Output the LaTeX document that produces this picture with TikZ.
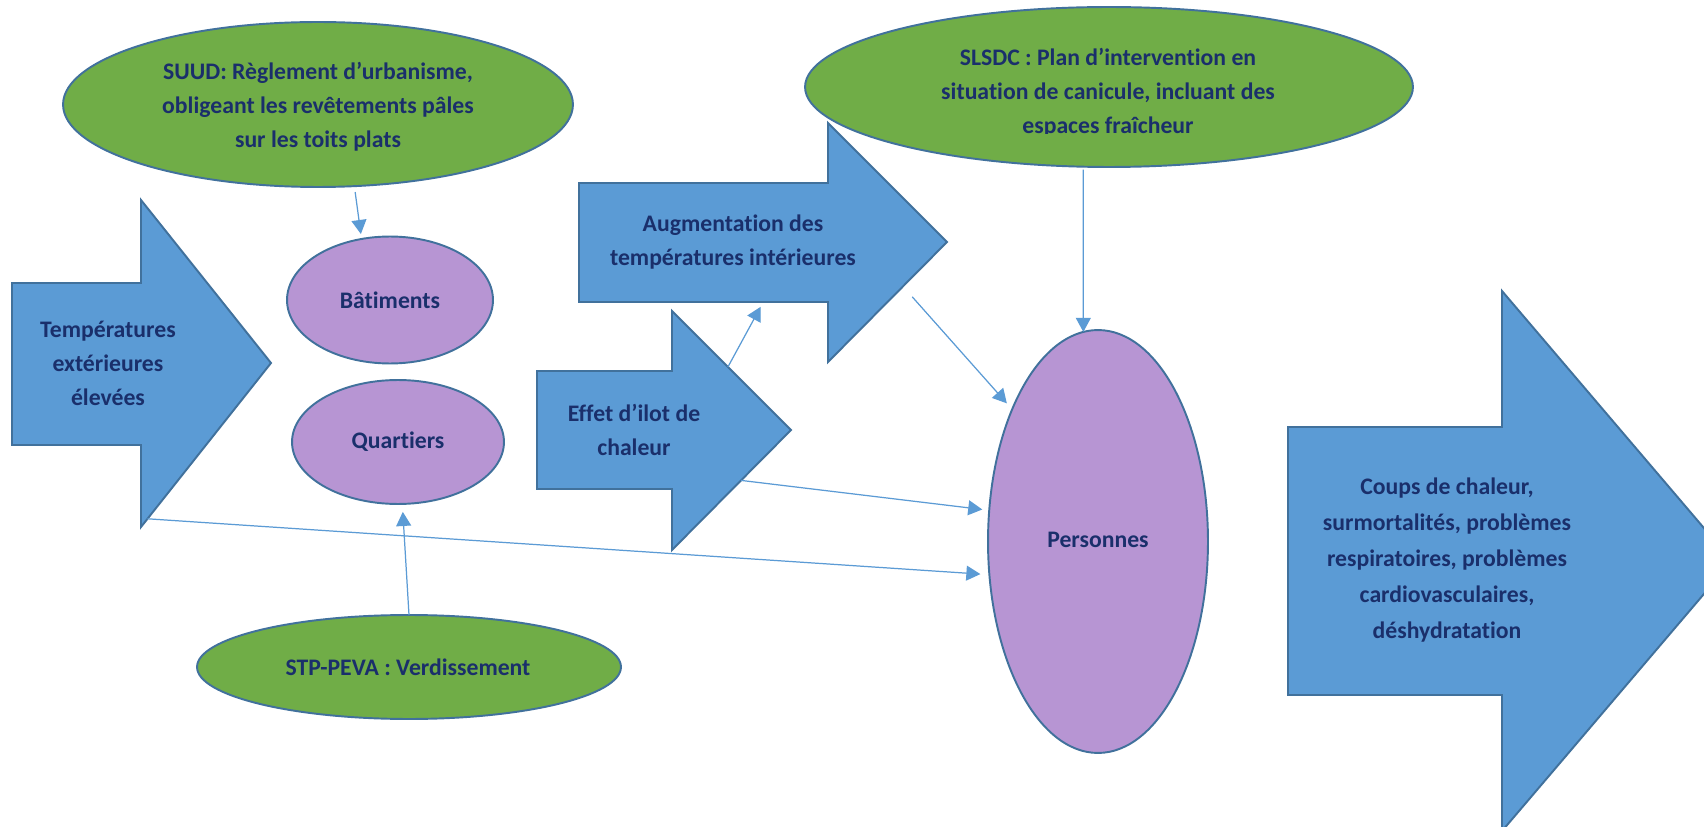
\documentclass[tikz,border=0pt]{standalone}
\usepackage{fontspec}
\setmainfont{Carlito}[Ligatures=NoCommon]
\usepackage{tikz}
\usetikzlibrary{calc,arrows.meta,shapes.geometric}
\definecolor{arrblue}{HTML}{5B9BD5}
\definecolor{edgeblue}{HTML}{41719C}
\definecolor{leafgreen}{HTML}{70AD47}
\definecolor{lilac}{HTML}{B795D3}
\definecolor{navy}{HTML}{1A2F6B}

\begin{document}
\begin{tikzpicture}[x=0.02cm, y=-0.02cm,
    blockarr/.style={fill=arrblue, draw=edgeblue, line width=1.1pt, line join=miter},
    greenell/.style={ellipse, fill=leafgreen, draw=edgeblue, line width=1.1pt, inner sep=0, outer sep=0},
    lilacell/.style={ellipse, fill=lilac, draw=edgeblue, line width=1.1pt, inner sep=0, outer sep=0},
    txt/.style={font=\fontsize{13.5}{19.3}\selectfont\bfseries, text=navy, align=center, inner sep=0},
    conn/.style={draw=arrblue, line width=0.7pt, -{Triangle[length=8pt,width=8.5pt]}}]
    \clip (0,0) rectangle (1704,827);
    \fill[white] (0,0) rectangle (1704,827);

    % block arrows
    \draw[blockarr] (12,283) -- (141,283) -- (141,200) coordinate (temp-ht) -- (271,363) coordinate (temp-tip)
        -- (141,527) coordinate (temp-hb) -- (141,445) -- (12,445) -- cycle;
        \node[txt] (temp-t) at (108,363) {Températures\\extérieures\\élevées};

    \draw[blockarr] (579,183) -- (828,183) -- (828,123) coordinate (augm-ht) -- (947,242) coordinate (augm-tip)
        -- (828,362) coordinate (augm-hb) -- (828,302) coordinate (augm-bn) -- (579,302) coordinate (augm-bl) -- cycle;
        \node[txt] (augm-t) at (733,242) {Augmentation des\\températures intérieures};

    \draw[blockarr] (537,371) -- (672,371) -- (672,311) coordinate (effet-ht) -- (791,430) coordinate (effet-tip)
        -- (672,550) coordinate (effet-hb) -- (672,489) -- (537,489) -- cycle;
        \node[txt] (effet-t) at (634,430) {Effet d’ilot de\\chaleur};

    \draw[blockarr] (1288,427) -- (1502,427) -- (1502,291) -- (1732,561) coordinate (coups-tip)
        -- (1502,831) -- (1502,695) -- (1288,695) -- cycle;
        \node[txt, font=\fontsize{13.5}{20.6}\selectfont\bfseries] (coups-t) at (1447,560)
            {Coups de chaleur,\\surmortalités, problèmes\\respiratoires, problèmes\\cardiovasculaires,\\déshydratation};

    % ellipses
    \node[greenell, minimum width=10.2cm, minimum height=3.3cm] (suud) at (318,104.5) {};
        \node[txt] (suud-t) at (318,107) {SUUD: Règlement d’urbanisme,\\obligeant les revêtements pâles\\sur les toits plats};

    \node[greenell, minimum width=12.16cm, minimum height=3.2cm] (slsdc) at (1109,87) {};
    \begin{scope}
        \clip (800,0) rectangle (1420,134);
        \node[txt] (slsdc-t) at (1108,93) {SLSDC : Plan d’intervention en\\situation de canicule, incluant des\\espaces fraîcheur};
    \end{scope}

    \node[greenell, minimum width=8.48cm, minimum height=2.08cm] (stp) at (409,667) {};
        \node[txt] (stp-t) at (408,667) {STP-PEVA : Verdissement};

    \node[lilacell, minimum width=4.12cm, minimum height=2.54cm] (bat) at (390,300) {};
        \node[txt] (bat-t) at (390,300) {Bâtiments};

    \node[lilacell, minimum width=4.24cm, minimum height=2.48cm] (quart) at (398,442) {};
        \node[txt] (quart-t) at (398,442) {Quartiers};

    \node[lilacell, minimum width=4.4cm, minimum height=8.46cm] (pers) at (1098,541.5) {};
        \node[txt] (pers-t) at (1098,540) {Personnes};

    % connectors
    \draw[conn, shorten <=0.12cm, shorten >=0.1cm] (suud.-66) -- (bat.115);
    \draw[conn, shorten >=0.16cm] (stp.north) -- (quart.-86);
    \draw[conn, shorten >=0.18cm] ($(temp-tip)!0.95!(temp-hb)$) -- (pers.197);
    \draw[conn, shorten >=0.11cm] ($(effet-ht)!0.47!(effet-tip)$) -- ($(augm-bl)!0.74!(augm-bn)$);
    \draw[conn, shorten >=0.14cm] ($(effet-tip)!0.42!(effet-hb)$) -- (pers.164);
    \draw[conn, shorten <=0.28cm, shorten >=0.16cm] ($(augm-tip)!0.37!(augm-hb)$) -- (pers.123);
    \draw[conn, shorten <=0.06cm] (slsdc.-108.7) -- (pers.94);
\end{tikzpicture}
\end{document}
